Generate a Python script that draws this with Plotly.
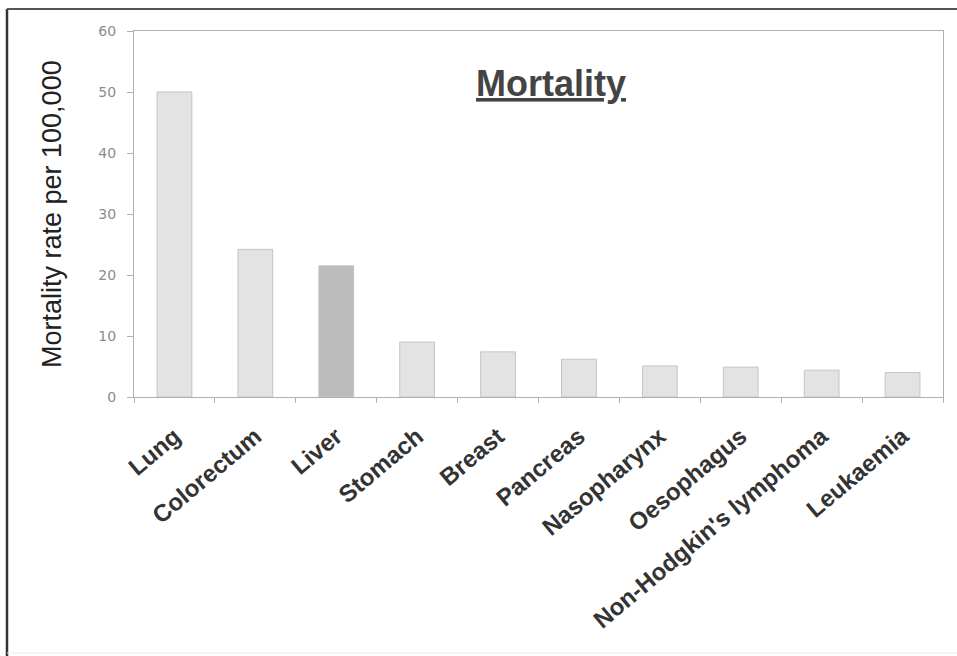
import plotly.graph_objects as go

# Cancer mortality rates per 100,000
sites = ["Lung", "Colorectum", "Liver", "Stomach", "Breast", "Pancreas",
         "Nasopharynx", "Oesophagus", "Non-Hodgkin's lymphoma", "Leukaemia"]
rates = [50.0, 24.2, 21.5, 9.0, 7.4, 6.2, 5.1, 4.9, 4.4, 4.0]
highlight = "Liver"
y_ticks = [0, 10, 20, 30, 40, 50, 60]

W, H = 957, 656
L, R, T, B = 134, 14, 31, 259
pw, ph = W - L - R, H - T - B


def px_x(p):
    return (p - L) / pw


def px_y(p):
    return (H - B - p) / ph


bar_colors = ["#bcbcbc" if s == highlight else "#e3e3e3" for s in sites]

fig = go.Figure(go.Bar(
    x=sites, y=rates, width=0.43,
    marker=dict(color=bar_colors, line=dict(color="#c4c4c4", width=1)),
))

fig.update_layout(
    width=W, height=H,
    margin=dict(l=L, r=R, t=T, b=B),
    paper_bgcolor="white", plot_bgcolor="white",
    showlegend=False,
    font=dict(family="Arial, Liberation Sans, sans-serif"),
)

fig.update_xaxes(
    showline=True, linecolor="#b0b0b0", linewidth=1, mirror=True,
    ticks="outside", tickson="boundaries", ticklen=5, tickcolor="#b0b0b0",
    tickangle=-40, ticklabelstandoff=15,
    tickfont=dict(family="Arial, Liberation Sans, sans-serif", size=24, color="#333333",
                  weight="bold"),
    showgrid=False,
)
fig.update_yaxes(
    range=[0, 60], tickvals=y_ticks,
    showline=True, linecolor="#b0b0b0", linewidth=1, mirror=True,
    ticks="outside", ticklen=6, tickcolor="#b0b0b0", ticklabelstandoff=8,
    tickfont=dict(family="DejaVu Sans", size=14, color="#8c8c8c"),
    showgrid=False, zeroline=False,
)

# Axis title and chart heading
fig.add_annotation(
    text="Mortality rate per 100,000", textangle=-90,
    xref="paper", yref="paper", x=px_x(52), y=px_y(214),
    showarrow=False, xanchor="center", yanchor="middle",
    font=dict(family="Arial, Liberation Sans, sans-serif", size=27, color="#222222"),
)
fig.add_annotation(
    text="<b><u>Mortality</u></b>",
    xref="paper", yref="paper", x=px_x(551), y=px_y(83),
    showarrow=False, xanchor="center", yanchor="middle",
    font=dict(family="Arial, Liberation Sans, sans-serif", size=36, color="#444444"),
)

# Outer frame
fig.add_shape(type="line", xref="paper", yref="paper",
              x0=px_x(7), x1=px_x(7), y0=px_y(9), y1=px_y(656),
              line=dict(color="#333333", width=2.5))
fig.add_shape(type="line", xref="paper", yref="paper",
              x0=px_x(7), x1=px_x(957), y0=px_y(9), y1=px_y(9),
              line=dict(color="#555555", width=2))
fig.add_shape(type="line", xref="paper", yref="paper",
              x0=px_x(7), x1=px_x(957), y0=px_y(653), y1=px_y(653),
              line=dict(color="#ececec", width=1))

fig.write_html("out.html")
